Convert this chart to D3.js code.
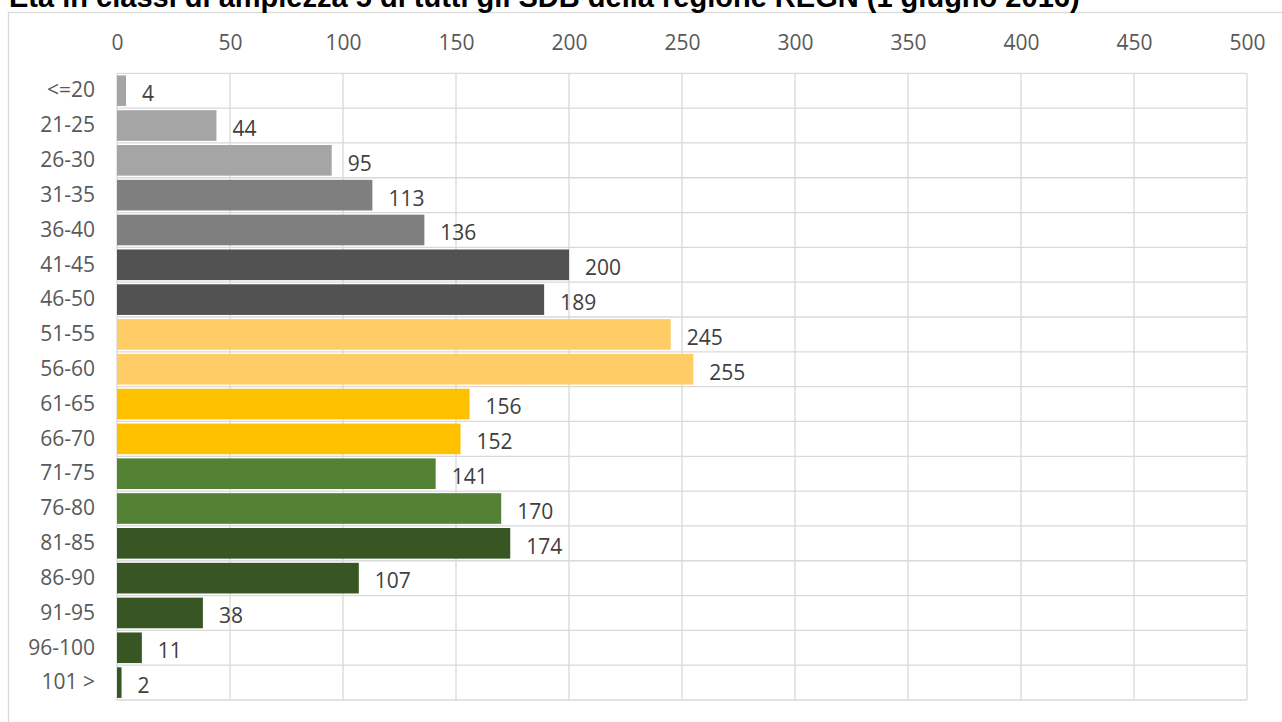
<!DOCTYPE html>
<html><head><meta charset="utf-8">
<script src="https://cdn.jsdelivr.net/npm/d3@7"></script>
<style>
html,body{margin:0;padding:0;background:#fff;overflow:hidden;}
svg{display:block;}
</style></head>
<body>
<script>
const title = "Età in classi di ampiezza 5 di tutti gli SDB della regione REGN (1 giugno 2016)";
const categories = ["<=20","21-25","26-30","31-35","36-40","41-45","46-50","51-55","56-60","61-65","66-70","71-75","76-80","81-85","86-90","91-95","96-100","101 >"];
const values = [4,44,95,113,136,200,189,245,255,156,152,141,170,174,107,38,11,2];
const colors = ["#a5a5a5","#a5a5a5","#a5a5a5","#7f7f7f","#7f7f7f","#525252","#525252","#ffcc66","#ffcc66","#ffc000","#ffc000","#548235","#548235","#375623","#375623","#375623","#375623","#375623"];
const xTicks = [0,50,100,150,200,250,300,350,400,450,500];

const W = 1282, H = 722;
const svg = d3.select("body").append("svg").attr("width", W).attr("height", H);

// chart frame
svg.append("rect").attr("x", 8.5).attr("y", 12.5).attr("width", 1300).attr("height", 800)
  .attr("fill", "#fff").attr("stroke", "#d9d9d9").attr("stroke-width", 1.3);

// title (partially cut at top, as in the reference)
const t = svg.append("text").attr("x", 9).attr("y", 7)
  .attr("font-family", "Liberation Sans, Arial, sans-serif").attr("font-weight", "bold")
  .attr("font-size", 24).attr("fill", "#000").text(title);
const tw = t.node().getComputedTextLength();
t.attr("font-size", 24 * (1071 / tw));

const x = d3.scaleLinear().domain([0, 500]).range([117, 1247]);
const y = d3.scaleBand().domain(categories).range([73.3, 700]).paddingInner(0.12).paddingOuter(0.06);
const step = y.step();
const top0 = 73.3;

const g = svg.append("g");
g.selectAll("line.v").data(xTicks).join("line")
  .attr("x1", d => x(d)).attr("x2", d => x(d)).attr("y1", top0).attr("y2", 700)
  .attr("stroke", "#d9d9d9").attr("stroke-width", 1.3);
g.selectAll("line.h").data(d3.range(categories.length + 1)).join("line")
  .attr("x1", x(0)).attr("x2", x(500)).attr("y1", i => top0 + i * step).attr("y2", i => top0 + i * step)
  .attr("stroke", "#d9d9d9").attr("stroke-width", 1.3);

const FS = 21;
const axis = d3.axisTop(x).tickValues(xTicks).tickSize(0).tickPadding(0);
const ag = svg.append("g").attr("transform", "translate(0,50)").call(axis);
ag.select(".domain").remove();
ag.selectAll("text").attr("font-family", "Open Sans, sans-serif").attr("font-size", FS)
  .attr("fill", "#595959");

const yl = d3.axisLeft(y).tickSize(0).tickPadding(22);
const lg = svg.append("g").attr("transform", `translate(${x(0)},0)`).call(yl);
lg.select(".domain").remove();
lg.selectAll("text").attr("font-family", "Open Sans, sans-serif").attr("font-size", FS)
  .attr("fill", "#595959");

svg.selectAll("rect.bar").data(categories).join("rect").attr("class", "bar")
  .attr("x", x(0)).attr("y", d => y(d))
  .attr("width", (d, i) => x(values[i]) - x(0)).attr("height", y.bandwidth())
  .attr("fill", (d, i) => colors[i]);

svg.selectAll("text.lbl").data(categories).join("text").attr("class", "lbl")
  .attr("x", (d, i) => x(values[i]) + 16).attr("y", d => y(d) + y.bandwidth() / 2 + 3)
  .attr("dy", "0.35em")
  .attr("font-family", "Open Sans, sans-serif").attr("font-size", FS).attr("fill", "#404040")
  .text((d, i) => values[i]);
</script>
</body></html>
